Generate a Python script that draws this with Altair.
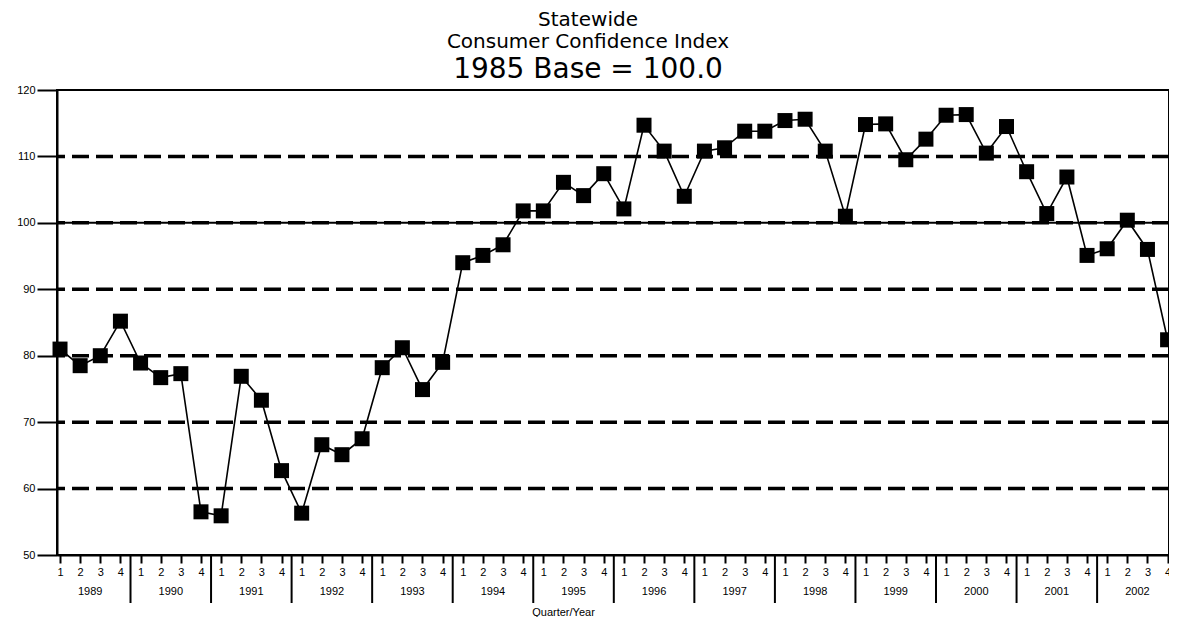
import altair as alt
import pandas as pd

# ---- data ----
years = [1989, 1990, 1991, 1992, 1993, 1994, 1995, 1996, 1997, 1998, 1999, 2000, 2001, 2002]
quarters = ["1", "2", "3", "4"]
cci = [81.0, 78.5, 80.0, 85.2, 78.9, 76.7, 77.3, 56.5, 55.9, 76.9,
       73.3, 62.7, 56.3, 66.6, 65.1, 67.5, 78.2, 81.2, 74.9, 79.0,
       94.0, 95.1, 96.7, 101.8, 101.8, 106.1, 104.1, 107.4, 102.1, 114.7,
       110.8, 104.0, 110.8, 111.3, 113.8, 113.8, 115.4, 115.6, 110.8, 101.0,
       114.8, 114.9, 109.5, 112.6, 116.2, 116.3, 110.5, 114.5, 107.7, 101.4,
       106.9, 95.1, 96.1, 100.4, 96.0, 82.4]
y_ticks = [50, 60, 70, 80, 90, 100, 110, 120]
grid_levels = [60, 70, 80, 90, 100, 110]
base_level = [100]

rows = []
for i, v in enumerate(cci):
    rows.append({"idx": i, "year": str(years[i // 4]), "q": quarters[i % 4], "cci": v})
df = pd.DataFrame(rows)
year_df = pd.DataFrame({"year": [str(y) for y in years],
                        "center": [4 * i + 1.5 for i in range(len(years))]})
sep_df = pd.DataFrame({"sep": [4 * i + 3.5 for i in range(len(years) - 1)]})

W, H = 1112, 465
FONT = "Liberation Sans"

xscale = alt.Scale(domain=[-0.15, 55.07], nice=False, zero=False)
yscale = alt.Scale(domain=[50, 120], nice=False, zero=False)

x_axis = alt.Axis(values=list(range(len(cci))),
                  labelExpr="['1','2','3','4'][datum.value % 4]",
                  tickSize=8, labelPadding=3, labelFontSize=11, labelAngle=0,
                  grid=False, title="Quarter/Year", titleFontSize=11,
                  titleFontWeight="normal", titleX=506, titleY=57,
                  titleBaseline="middle", titleAlign="center",
                  labelOverlap=False, labelFlush=False)
y_axis = alt.Axis(values=y_ticks, tickSize=20, labelPadding=2, labelFontSize=11,
                  grid=False, title=None, labelFlush=False)

grid = alt.Chart(pd.DataFrame({"g": grid_levels})).mark_rule(
    color="black", strokeWidth=3.5, strokeDash=[17, 7]
).encode(y=alt.Y("g:Q", scale=yscale, axis=y_axis))

base_rule = alt.Chart(pd.DataFrame({"b": base_level})).mark_rule(
    color="black", strokeWidth=2
).encode(y=alt.Y("b:Q", scale=yscale, axis=y_axis))

seps = alt.Chart(sep_df).mark_rule(color="black", strokeWidth=2).encode(
    x=alt.X("sep:Q", scale=xscale, axis=x_axis),
    y=alt.value(H), y2=alt.value(H + 48)
)

year_labels = alt.Chart(year_df).mark_text(
    font=FONT, fontSize=11, color="black", baseline="middle"
).encode(
    x=alt.X("center:Q", scale=xscale, axis=x_axis),
    y=alt.value(H + 37),
    text="year:N"
)

line = alt.Chart(df).mark_line(color="black", strokeWidth=1.6).encode(
    x=alt.X("idx:Q", scale=xscale, axis=x_axis),
    y=alt.Y("cci:Q", scale=yscale, axis=y_axis)
)

points = alt.Chart(df).mark_square(size=225, color="black", filled=True, opacity=1).encode(
    x=alt.X("idx:Q", scale=xscale, axis=x_axis),
    y=alt.Y("cci:Q", scale=yscale, axis=y_axis)
)

chart = alt.layer(grid, base_rule, seps, year_labels, line, points).properties(
    width=W, height=H,
    title=alt.TitleParams(
        text=["Statewide", "Consumer Confidence Index"],
        subtitle="1985 Base = 100.0",
        anchor="middle", dx=-25, offset=0,
        font="DejaVu Sans", fontSize=20, fontWeight="normal", lineHeight=22,
        color="black",
        subtitleFont="DejaVu Sans", subtitleFontSize=28, subtitleColor="black",
        subtitlePadding=4
    ),
    padding={"left": 49, "top": 82, "right": 0, "bottom": 62},
    autosize=alt.AutoSizeParams(type="none")
).resolve_scale(x="shared", y="shared").configure_view(
    stroke="black", strokeWidth=2
).configure_axis(
    domainColor="black", domainWidth=2, tickColor="black", tickWidth=2,
    labelColor="black", labelFont=FONT, titleFont=FONT, titleColor="black"
)

chart.save("out.html", embed_options={"renderer": "svg", "actions": False})
